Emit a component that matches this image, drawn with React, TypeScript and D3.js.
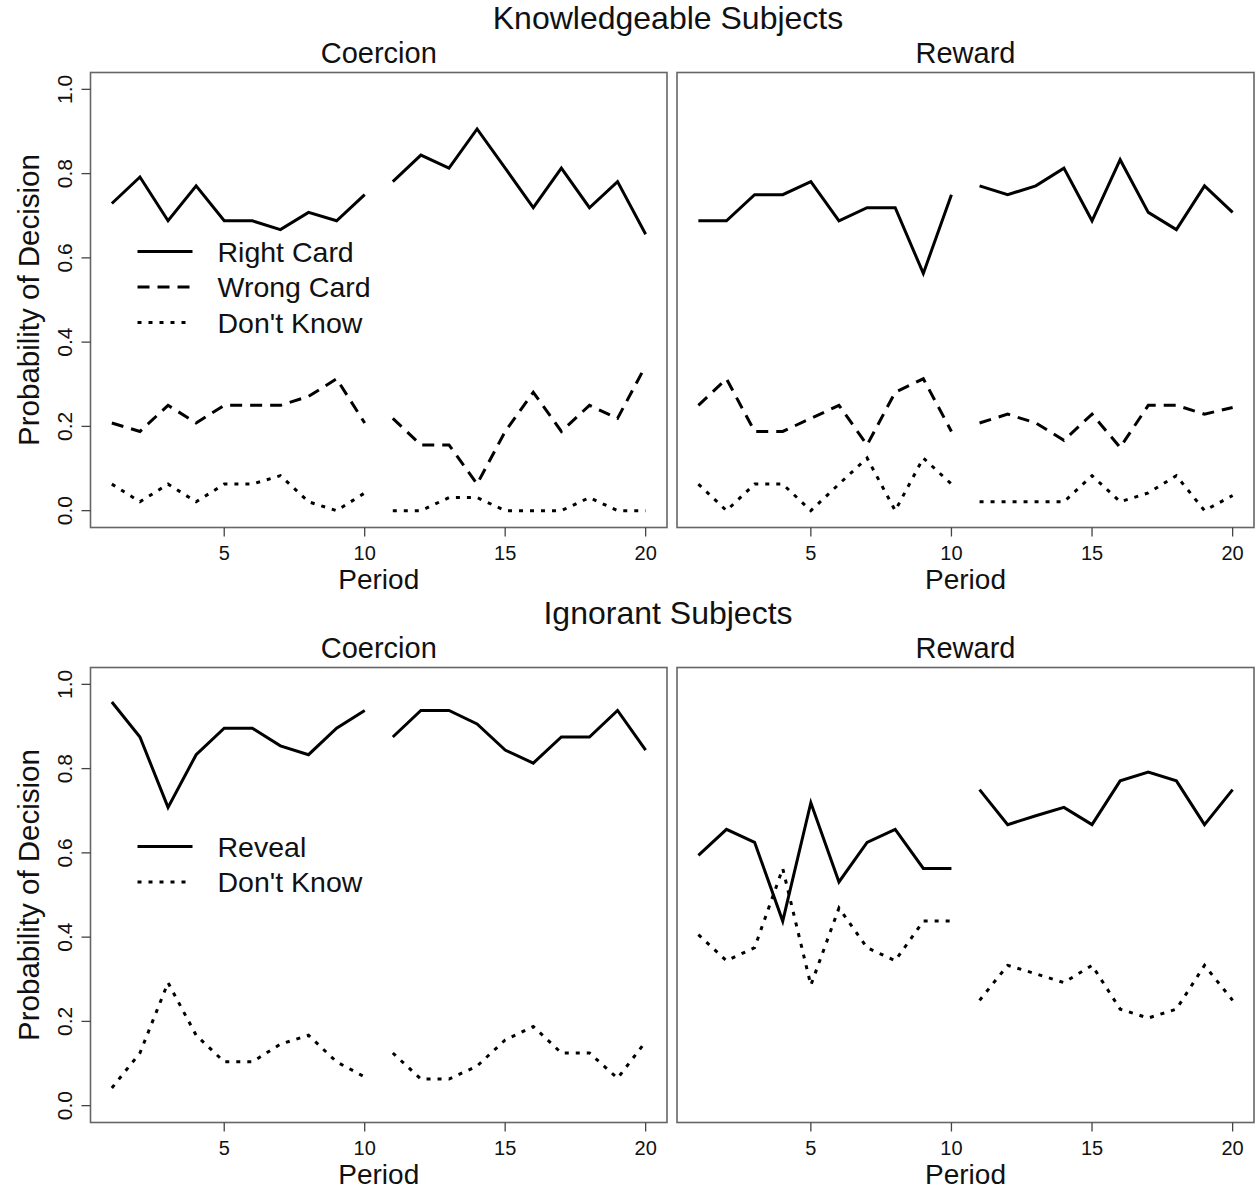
import React from "react";
import * as d3 from "d3";

const periods = [1, 2, 3, 4, 5, 6, 7, 8, 9, 10, 11, 12, 13, 14, 15, 16, 17, 18, 19, 20];
const xTicks = [5, 10, 15, 20];
const yTicks = [0, 0.2, 0.4, 0.6, 0.8, 1.0];

const knowCoercionRight = [0.729, 0.792, 0.688, 0.771, 0.688, 0.688, 0.667, 0.708, 0.688, 0.75, 0.781, 0.844, 0.813, 0.906, 0.813, 0.719, 0.813, 0.719, 0.781, 0.656];
const knowCoercionWrong = [0.208, 0.188, 0.25, 0.208, 0.25, 0.25, 0.25, 0.271, 0.313, 0.208, 0.219, 0.156, 0.156, 0.063, 0.188, 0.281, 0.188, 0.25, 0.219, 0.344];
const knowCoercionDK = [0.063, 0.021, 0.063, 0.021, 0.063, 0.063, 0.083, 0.021, 0, 0.042, 0, 0, 0.031, 0.031, 0, 0, 0, 0.031, 0, 0];

const knowRewardRight = [0.688, 0.688, 0.75, 0.75, 0.781, 0.688, 0.719, 0.719, 0.563, 0.75, 0.771, 0.75, 0.771, 0.813, 0.688, 0.833, 0.708, 0.667, 0.771, 0.708];
const knowRewardWrong = [0.25, 0.313, 0.188, 0.188, 0.219, 0.25, 0.156, 0.281, 0.313, 0.188, 0.208, 0.229, 0.208, 0.167, 0.229, 0.15, 0.25, 0.25, 0.229, 0.245];
const knowRewardDK = [0.063, 0, 0.063, 0.063, 0, 0.063, 0.125, 0, 0.125, 0.063, 0.021, 0.021, 0.021, 0.021, 0.083, 0.021, 0.042, 0.083, 0, 0.036];

const ignCoercionReveal = [0.958, 0.875, 0.708, 0.833, 0.896, 0.896, 0.854, 0.833, 0.896, 0.938, 0.875, 0.938, 0.938, 0.906, 0.844, 0.813, 0.875, 0.875, 0.938, 0.844];
const ignCoercionDK = [0.042, 0.125, 0.292, 0.167, 0.104, 0.104, 0.146, 0.167, 0.104, 0.068, 0.125, 0.063, 0.063, 0.094, 0.156, 0.188, 0.125, 0.125, 0.065, 0.152];

const ignRewardReveal = [0.594, 0.656, 0.625, 0.438, 0.719, 0.531, 0.625, 0.656, 0.563, 0.563, 0.75, 0.667, 0.688, 0.708, 0.667, 0.771, 0.792, 0.771, 0.667, 0.75];
const ignRewardDK = [0.406, 0.344, 0.375, 0.563, 0.286, 0.469, 0.375, 0.344, 0.438, 0.438, 0.25, 0.333, 0.313, 0.292, 0.333, 0.229, 0.208, 0.229, 0.333, 0.25];

const FONT = "'Liberation Sans', Arial, Helvetica, sans-serif";
const DASH = "12,8";
const DOT = "4,7";

type Series = { values: number[]; dash: string | null };
type Legend = { label: string; dash: string | null }[];

function Panel(props: {
  x0: number;
  x1: number;
  y0: number;
  y1: number;
  series: Series[];
  title: string;
  yAxis: boolean;
  legend?: Legend;
}) {
  const { x0, x1, y0, y1, series, title, yAxis, legend } = props;
  const x = d3.scaleLinear().domain([0.24, 20.76]).range([x0, x1]);
  const y = d3.scaleLinear().domain([-0.04, 1.04]).range([y1, y0]);
  const cx = (x0 + x1) / 2;
  return (
    <g>
      <text x={cx} y={y0 - 10} textAnchor="middle" fontSize={29} fontFamily={FONT} fill="#111">
        {title}
      </text>
      <rect x={x0} y={y0} width={x1 - x0} height={y1 - y0} fill="none" stroke="#666" strokeWidth={1.6} />
      {series.map((s, si) => {
        const a = s.values.slice(0, 10);
        const b = s.values.slice(10);
        const lineA = d3
          .line<number>()
          .x((_, i) => x(periods[i]))
          .y((d) => y(d));
        const lineB = d3
          .line<number>()
          .x((_, i) => x(periods[i + 10]))
          .y((d) => y(d));
        return (
          <g key={si}>
            <path d={lineA(a) || ""} fill="none" stroke="#000" strokeWidth={3} strokeDasharray={s.dash || undefined} />
            <path d={lineB(b) || ""} fill="none" stroke="#000" strokeWidth={3} strokeDasharray={s.dash || undefined} />
          </g>
        );
      })}
      {xTicks.map((t) => (
        <g key={t}>
          <line x1={x(t)} x2={x(t)} y1={y1} y2={y1 + 9} stroke="#444" strokeWidth={1.3} />
          <text x={x(t)} y={y1 + 32} textAnchor="middle" fontSize={20} fontFamily={FONT} fill="#111">
            {t}
          </text>
        </g>
      ))}
      <text x={cx} y={y1 + 61} textAnchor="middle" fontSize={28} fontFamily={FONT} fill="#111">
        Period
      </text>
      {yAxis &&
        yTicks.map((t) => (
          <g key={t}>
            <line x1={x0 - 9} x2={x0} y1={y(t)} y2={y(t)} stroke="#444" strokeWidth={1.3} />
            <text
              transform={`translate(${x0 - 19},${y(t)}) rotate(-90)`}
              textAnchor="middle"
              fontSize={21}
              fontFamily={FONT}
              fill="#111"
            >
              {t.toFixed(1)}
            </text>
          </g>
        ))}
      {yAxis && (
        <text
          transform={`translate(${x0 - 52},${(y0 + y1) / 2}) rotate(-90)`}
          textAnchor="middle"
          fontSize={29.5}
          fontFamily={FONT}
          fill="#111"
        >
          Probability of Decision
        </text>
      )}
      {legend &&
        legend.map((l, i) => {
          const ly = y0 + 179 + i * 35.5;
          return (
            <g key={i}>
              <line x1={x0 + 47} x2={x0 + 102} y1={ly} y2={ly} stroke="#000" strokeWidth={3} strokeDasharray={l.dash || undefined} />
              <text x={x0 + 127} y={ly + 10} fontSize={28.5} fontFamily={FONT} fill="#111">
                {l.label}
              </text>
            </g>
          );
        })}
    </g>
  );
}

export default function App() {
  const L0 = 90.5, L1 = 667;
  const R0 = 677, R1 = 1254;
  const T0 = 72.5, T1 = 527.5;
  const off = 595;
  return (
    <svg width={1256} height={1190} style={{ display: "block", position: "absolute", left: 0, top: 0, background: "#fff" }}>
      <rect x={0} y={0} width={1256} height={1190} fill="#fff" />
      <text x={668} y={29} textAnchor="middle" fontSize={32} fontFamily={FONT} fill="#111">
        Knowledgeable Subjects
      </text>
      <text x={668} y={29 + off} textAnchor="middle" fontSize={32} fontFamily={FONT} fill="#111">
        Ignorant Subjects
      </text>
      <Panel
        x0={L0} x1={L1} y0={T0} y1={T1} title="Coercion" yAxis={true}
        series={[
          { values: knowCoercionRight, dash: null },
          { values: knowCoercionWrong, dash: DASH },
          { values: knowCoercionDK, dash: DOT },
        ]}
        legend={[
          { label: "Right Card", dash: null },
          { label: "Wrong Card", dash: DASH },
          { label: "Don't Know", dash: DOT },
        ]}
      />
      <Panel
        x0={R0} x1={R1} y0={T0} y1={T1} title="Reward" yAxis={false}
        series={[
          { values: knowRewardRight, dash: null },
          { values: knowRewardWrong, dash: DASH },
          { values: knowRewardDK, dash: DOT },
        ]}
      />
      <Panel
        x0={L0} x1={L1} y0={T0 + off} y1={T1 + off} title="Coercion" yAxis={true}
        series={[
          { values: ignCoercionReveal, dash: null },
          { values: ignCoercionDK, dash: DOT },
        ]}
        legend={[
          { label: "Reveal", dash: null },
          { label: "Don't Know", dash: DOT },
        ]}
      />
      <Panel
        x0={R0} x1={R1} y0={T0 + off} y1={T1 + off} title="Reward" yAxis={false}
        series={[
          { values: ignRewardReveal, dash: null },
          { values: ignRewardDK, dash: DOT },
        ]}
      />
    </svg>
  );
}
